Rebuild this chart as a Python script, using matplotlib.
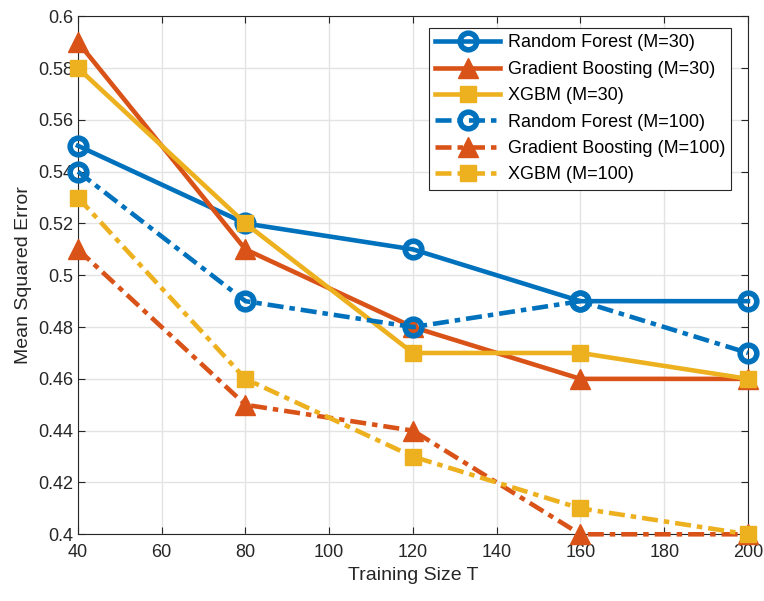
import matplotlib
matplotlib.use("Agg")
import matplotlib.pyplot as plt

plt.rcParams['font.family'] = ['Liberation Sans', 'DejaVu Sans']

# training sizes
T = [40, 80, 120, 160, 200]

rf_30 = [0.55, 0.52, 0.51, 0.49, 0.49]
gb_30 = [0.59, 0.51, 0.48, 0.46, 0.46]
xg_30 = [0.58, 0.52, 0.47, 0.47, 0.46]
rf_100 = [0.54, 0.49, 0.48, 0.49, 0.47]
gb_100 = [0.51, 0.45, 0.44, 0.40, 0.40]
xg_100 = [0.53, 0.46, 0.43, 0.41, 0.40]

labels = ["Random Forest (M=30)", "Gradient Boosting (M=30)", "XGBM (M=30)",
          "Random Forest (M=100)", "Gradient Boosting (M=100)", "XGBM (M=100)"]

blue = '#0072BD'
red = '#D95319'
yellow = '#EDB120'

fig = plt.figure(figsize=(7.64, 6.01), dpi=100)
ax = fig.add_axes([0.102, 0.111, 0.877, 0.862])

lw = 3.3
dd = [3.5, 1.3, 1.2, 1.3]
common = dict(lw=lw, clip_on=False, zorder=3)
ax.plot(T, rf_30, '-', color=blue, marker='o', ms=12, mfc='none', mew=4, label=labels[0], **common)
ax.plot(T, gb_30, '-', color=red, marker='^', ms=14, mfc=red, label=labels[1], **common)
ax.plot(T, xg_30, '-', color=yellow, marker='s', ms=11, mfc=yellow, label=labels[2], **common)
ax.plot(T, rf_100, '-.', dashes=dd, color=blue, marker='o', ms=12, mfc='none', mew=4, label=labels[3], **common)
ax.plot(T, gb_100, '-.', dashes=dd, color=red, marker='^', ms=14, mfc=red, label=labels[4], **common)
ax.plot(T, xg_100, '-.', dashes=dd, color=yellow, marker='s', ms=11, mfc=yellow, label=labels[5], **common)

ax.set_xlim(40, 200)
ax.set_ylim(0.4, 0.6)
ax.set_xticks([40, 60, 80, 100, 120, 140, 160, 180, 200])
ax.set_yticks([0.4, 0.42, 0.44, 0.46, 0.48, 0.5, 0.52, 0.54, 0.56, 0.58, 0.6])
ax.set_yticklabels(['0.4', '0.42', '0.44', '0.46', '0.48', '0.5', '0.52', '0.54', '0.56', '0.58', '0.6'])
ax.grid(True, color='#e3e3e3', lw=1)
ax.set_axisbelow(True)
ax.tick_params(labelsize=13, direction='in', length=5, color='#262626', labelcolor='#262626',
               top=True, right=True)
ax.tick_params(axis='x', pad=7)
for s in ax.spines.values():
    s.set_color('#262626')
    s.set_linewidth(0.8)

ax.set_xlabel('Training Size T', fontsize=14, color='#262626')
ax.set_ylabel('Mean Squared Error', fontsize=14, color='#262626')

leg = ax.legend(loc='upper right', fontsize=13, fancybox=False, framealpha=1,
                edgecolor='#262626', handlelength=3.6, borderpad=0.35,
                labelspacing=0.52, handletextpad=0.4, borderaxespad=0,
                bbox_to_anchor=(0.975, 0.977))
leg.get_frame().set_linewidth(0.8)
leg.set_zorder(5)

fig.savefig('out.png', dpi=100)
